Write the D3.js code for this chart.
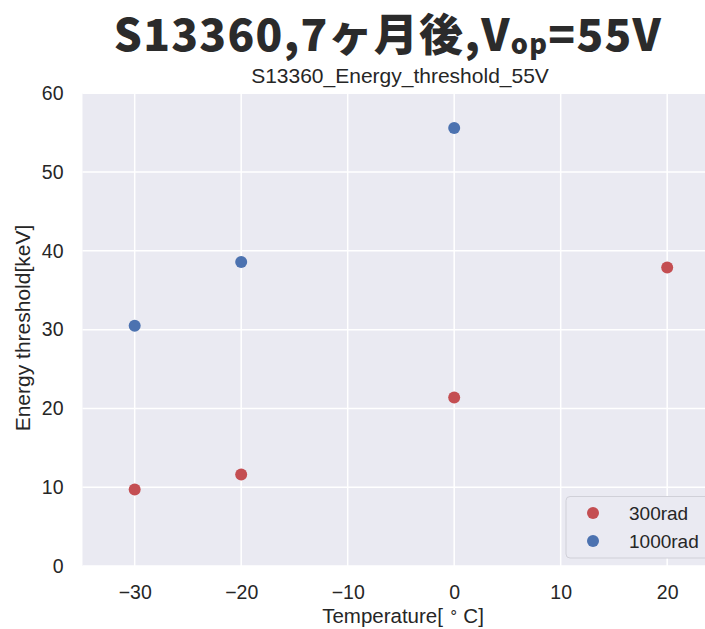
<!DOCTYPE html>
<html><head><meta charset="utf-8">
<script src="https://cdn.jsdelivr.net/npm/d3@7"></script>
<style>body{margin:0;background:#fff}svg{display:block}</style>
</head><body>
<svg id="c" width="705" height="629"></svg>
<script>
const temps300 = [-30, -20, 0, 20];
const vals300 = [9.7, 11.6, 21.4, 37.9];
const temps1000 = [-30, -20, 0];
const vals1000 = [30.5, 38.6, 55.6];
const seriesNames = ["300rad", "1000rad"];
const seriesColors = ["#c44e52", "#4c72b0"];
const xTicks = [-30, -20, -10, 0, 10, 20];
const yTicks = [0, 10, 20, 30, 40, 50, 60];

const svg = d3.select("#c");
const L = 82.5, R = 705, T = 93.3, B = 566;
const x = d3.scaleLinear().domain([-34.9, 23.55]).range([L, R]);
const y = d3.scaleLinear().domain([0, 60]).range([B, T]);
const font = "'Liberation Sans', Arial, sans-serif";
const ink = "#262626";

svg.append("rect").attr("x", L).attr("y", T).attr("width", R - L).attr("height", B - T).attr("fill", "#eaeaf2");
const g = svg.append("g");
g.selectAll(".gx").data(xTicks).join("line").attr("x1", d => x(d)).attr("x2", d => x(d)).attr("y1", T).attr("y2", B).attr("stroke", "#fff").attr("stroke-width", 1.5);
g.selectAll(".gy").data(yTicks).join("line").attr("y1", d => y(d)).attr("y2", d => y(d)).attr("x1", L).attr("x2", R).attr("stroke", "#fff").attr("stroke-width", 1.5);

const xa = svg.append("g").attr("transform", `translate(0,${B})`).call(d3.axisBottom(x).tickValues(xTicks).tickSize(0).tickPadding(19).tickFormat(d => d < 0 ? "\u2212" + Math.abs(d) : d));
xa.select(".domain").remove();
xa.selectAll("text").attr("font-family", font).attr("font-size", 19.5).attr("fill", ink);
const ya = svg.append("g").attr("transform", `translate(${L},0)`).call(d3.axisLeft(y).tickValues(yTicks).tickSize(0).tickPadding(19));
ya.select(".domain").remove();
ya.selectAll("text").attr("font-family", font).attr("font-size", 19.5).attr("fill", ink);

const pts = [
  {t: temps300, v: vals300, c: seriesColors[0]},
  {t: temps1000, v: vals1000, c: seriesColors[1]}
];
pts.forEach(s => {
  svg.append("g").selectAll("circle").data(s.t.map((t, i) => [t, s.v[i]])).join("circle")
    .attr("cx", d => x(d[0])).attr("cy", d => y(d[1])).attr("r", 6).attr("fill", s.c);
});

// Legend
const lg = svg.append("g");
lg.append("rect").attr("x", 566).attr("y", 496.5).attr("width", 150).attr("height", 61.5).attr("rx", 4)
  .attr("fill", "#eaeaf2").attr("stroke", "#d0d0d8").attr("stroke-width", 1);
seriesNames.forEach((n, i) => {
  lg.append("circle").attr("cx", 593).attr("cy", 513 + i * 28).attr("r", 6).attr("fill", seriesColors[i]);
  lg.append("text").attr("x", 629).attr("y", 513 + i * 28).attr("dy", "0.35em").attr("font-family", font).attr("font-size", 19).attr("fill", ink).text(n);
});

// Axis labels
const xl = svg.append("text").attr("x", 403).attr("y", 623).attr("text-anchor", "middle").attr("font-family", font).attr("font-size", 20.5).attr("fill", ink);
xl.append("tspan").text("Temperature[ ");
xl.append("tspan").attr("font-size", 15).attr("dy", -6).text("\u2218");
xl.append("tspan").attr("dy", 6).text(" C]");
svg.append("text").attr("transform", `translate(30,${328}) rotate(-90)`).attr("text-anchor", "middle").attr("font-family", font).attr("font-size", 21).attr("fill", ink).text("Energy threshold[keV]");

// Subtitle
svg.append("text").attr("x", 400).attr("y", 82.5).attr("text-anchor", "middle").attr("font-family", font).attr("font-size", 21).attr("fill", ink).text("S13360_Energy_threshold_55V");

// Title
const tt = svg.append("text").attr("x", 388).attr("y", 51).attr("text-anchor", "middle")
  .attr("font-family", "'Noto Sans CJK JP', sans-serif").attr("font-weight", 900).attr("font-size", 44).attr("letter-spacing", 1.3).attr("fill", "#2b2b2b");
tt.append("tspan").text("S13360,7ヶ月後,V");
tt.append("tspan").attr("font-size", 27).attr("dy", 3).text("op");
tt.append("tspan").attr("dy", -3).text("=55V");
</script>
</body></html>
